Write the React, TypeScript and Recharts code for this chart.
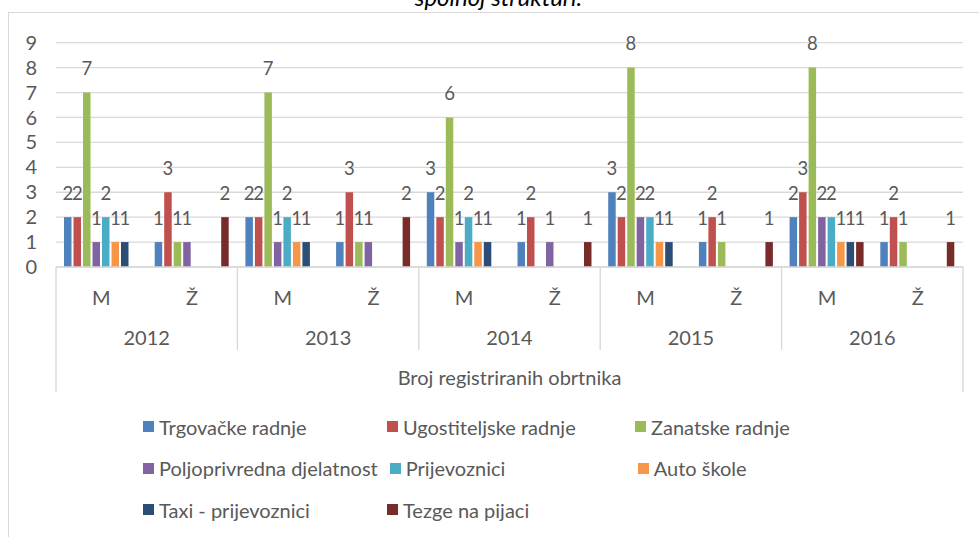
import React from 'react';
import { BarChart, Bar, XAxis, YAxis, CartesianGrid, Legend, LabelList } from 'recharts';

const years = ['2012', '2013', '2014', '2015', '2016'];
const sexes = ['M', 'Ž'];
const yTicks = [0, 1, 2, 3, 4, 5, 6, 7, 8, 9];

// values per category: 2012 M, 2012 Ž, 2013 M, 2013 Ž, ... 2016 Ž
const trgovacke = [2, 1, 2, 1, 3, 1, 3, 1, 2, 1];
const ugostiteljske = [2, 3, 2, 3, 2, 2, 2, 2, 3, 2];
const zanatske = [7, 1, 7, 1, 6, 0, 8, 1, 8, 1];
const poljoprivredna = [1, 1, 1, 1, 1, 1, 2, 0, 2, 0];
const prijevoznici = [2, 0, 2, 0, 2, 0, 2, 0, 2, 0];
const autoSkole = [1, 0, 1, 0, 1, 0, 1, 0, 1, 0];
const taxi = [1, 0, 1, 0, 1, 0, 1, 0, 1, 0];
const tezge = [0, 2, 0, 2, 0, 1, 0, 1, 1, 1];

const seriesNames = [
  'Trgovačke radnje',
  'Ugostiteljske radnje',
  'Zanatske radnje',
  'Poljoprivredna djelatnost',
  'Prijevoznici',
  'Auto škole',
  'Taxi - prijevoznici',
  'Tezge na pijaci',
];
const seriesValues = [trgovacke, ugostiteljske, zanatske, poljoprivredna, prijevoznici, autoSkole, taxi, tezge];
const colors = ['#4F81BD', '#C0504D', '#9BBB59', '#8064A2', '#4BACC6', '#F79646', '#2C4D75', '#772C2A'];

const axisTitle = 'Broj registriranih obrtnika';
const titleText = 'spolnoj strukturi.';

const data = years.flatMap((yr, yi) =>
  sexes.map((sx, si) => {
    const idx = yi * 2 + si;
    const row: any = { cat: `${yr}-${sx}`, year: yr, sex: sx };
    seriesValues.forEach((vals, k) => {
      row[`s${k}`] = vals[idx];
    });
    return row;
  })
);

const W = 979;
const H = 537;
const FONT = 'Lato, "Open Sans", sans-serif';
const FS = 20;
const LABEL_FS = 18.5;
const TXT = '#595959';
const LINE = '#d9d9d9';
const MARGIN = { top: 42.7, right: 16, left: 8, bottom: 130 };
const YAXIS_W = 48;
const XAXIS_H = 140;
const band = (W - MARGIN.left - MARGIN.right - YAXIS_W) / data.length;

const XTick = (props: any) => {
  const { x, y, index, payload } = props;
  const d = data[index] || data.find((r) => r.cat === payload.value);
  const isFirstOfYear = index % 2 === 0;
  const isLast = index === data.length - 1;
  return (
    <g>
      <text x={x} y={y + 38} textAnchor="middle" fontSize={FS} fill={TXT}>
        {d.sex}
      </text>
      {isFirstOfYear && (
        <>
          <line x1={x - band / 2} x2={x - band / 2} y1={y} y2={index === 0 ? y + 125 : y + 83} stroke={LINE} strokeWidth={1.4} />
          <text x={x + band / 2} y={y + 78} textAnchor="middle" fontSize={FS} fill={TXT}>
            {d.year}
          </text>
        </>
      )}
      {isLast && <line x1={x + band / 2} x2={x + band / 2} y1={y} y2={y + 125} stroke={LINE} strokeWidth={1.4} />}
      {index === 4 && (
        <text x={x + band / 2} y={y + 118} textAnchor="middle" fontSize={FS} fill={TXT}>
          {axisTitle}
        </text>
      )}
    </g>
  );
};

const renderLabel = (props: any) => {
  const { x, y, width, value } = props;
  if (!value) return null;
  return (
    <text x={x + width / 2} y={y - 17.5} textAnchor="middle" fontSize={LABEL_FS} fill={TXT}>
      {value}
    </text>
  );
};

const legendRows = [[0, 1, 2], [3, 4, 5], [6, 7]];
const colMinW = [244, 248, 248];

const LegendContent = (props: any) => {
  const payload = props.payload || [];
  return (
    <div style={{ position: 'relative', fontFamily: FONT, fontSize: FS, color: TXT }}>
      {legendRows.map((row, ri) => (
        <div key={ri} style={{ display: 'flex', alignItems: 'center', height: 41.5, paddingLeft: 143 }}>
          {row.map((k, ci) => {
            const p = payload.find((it: any) => it.value === seriesNames[k]) || { value: seriesNames[k], color: colors[k] };
            return (
              <div key={k} style={{ display: 'flex', alignItems: 'center', minWidth: colMinW[ci], boxSizing: 'border-box', paddingRight: 12, whiteSpace: 'nowrap' }}>
                <span style={{ display: 'inline-block', width: 11, height: 11, background: p.color, marginRight: 5 }} />
                <span>{p.value}</span>
              </div>
            );
          })}
        </div>
      ))}
    </div>
  );
};

export default function App() {
  return (
    <div style={{ position: 'absolute', left: 0, top: 0, width: W, height: H, overflow: 'hidden', background: '#fff', fontFamily: FONT }}>
      <div style={{ position: 'absolute', left: 8, top: 12, width: 1100, height: 700, borderLeft: `1.5px solid ${LINE}`, borderTop: `1.5px solid ${LINE}` }} />
      <div style={{ position: 'absolute', left: 0, width: W, top: -14, textAlign: 'center', paddingLeft: 18, boxSizing: 'border-box', fontStyle: 'italic', fontSize: 24, lineHeight: '22px', color: '#000' }}>
        {titleText}
      </div>
      <div style={{ position: 'absolute', left: 0, top: 0 }}>
        <BarChart width={W} height={H} data={data} margin={MARGIN} barSize={7.5} barGap={2}>
          <CartesianGrid vertical={false} stroke={LINE} strokeWidth={1.3} />
          <XAxis
            dataKey="cat"
            interval={0}
            height={XAXIS_H}
            tickSize={0}
            tickMargin={0}
            tickLine={false}
            axisLine={{ stroke: LINE, strokeWidth: 1.4 }}
            tick={<XTick />}
          />
          <YAxis
            width={YAXIS_W}
            domain={[0, 9]}
            ticks={yTicks}
            interval={0}
            axisLine={false}
            tickLine={false}
            tickSize={0}
            tickMargin={19}
            tick={{ fill: TXT, fontSize: FS }}
          />
          {seriesNames.map((name, k) => (
            <Bar key={name} dataKey={`s${k}`} name={name} fill={colors[k]} isAnimationActive={false}>
              <LabelList dataKey={`s${k}`} content={renderLabel} />
            </Bar>
          ))}
          <Legend
            content={<LegendContent />}
            wrapperStyle={{ position: 'absolute', left: 0, top: 406, width: W, height: 0, margin: 0, overflow: 'visible' }}
          />
        </BarChart>
      </div>
    </div>
  );
}
